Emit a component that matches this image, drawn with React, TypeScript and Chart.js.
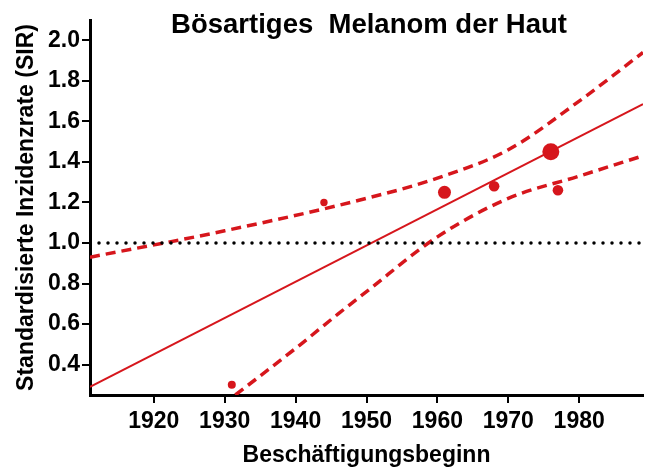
import React, { useEffect, useRef } from "react";
import { Chart, registerables } from "chart.js";

Chart.register(...registerables);

const TITLE = "Bösartiges  Melanom der Haut";
const X_TITLE = "Beschäftigungsbeginn";
const Y_TITLE = "Standardisierte Inzidenzrate (SIR)";

const xTicks = [1920, 1930, 1940, 1950, 1960, 1970, 1980];
const yTicks = [0.4, 0.6, 0.8, 1.0, 1.2, 1.4, 1.6, 1.8, 2.0];

const pointYears = [1931, 1944, 1961, 1968, 1976, 1977];
const pointSIR = [0.3, 1.2, 1.25, 1.28, 1.45, 1.26];
const pointSize = [4, 3.7, 6.5, 5.3, 8.5, 5.3];

const fitYears = [1911, 1989];
const fitSIR = [0.29, 1.685];

const upperYears = [1911, 1930, 1950, 1960, 1970, 1980, 1989];
const upperSIR = [0.93, 1.06, 1.22, 1.32, 1.46, 1.7, 1.94];

const lowerYears = [1931.5, 1940, 1946, 1950, 1960, 1970, 1980, 1989];
const lowerSIR = [0.25, 0.48, 0.65, 0.76, 1.03, 1.22, 1.33, 1.43];

const refYears = [1911, 1989];
const refSIR = [1.0, 1.0];

const RED = "rgb(214,22,28)";
const FONT = "'Liberation Sans', Arial, Helvetica, sans-serif";

const zip = (xs: number[], ys: number[]) => xs.map((x, i) => ({ x, y: ys[i] }));

export default function App() {
  const ref = useRef<HTMLCanvasElement | null>(null);
  useEffect(() => {
    document.body.style.margin = "0";
    const canvas = ref.current!;
    const titlePlugin = {
      id: "topTitle",
      afterDraw(chart: any) {
        const ctx = chart.ctx;
        ctx.save();
        ctx.font = `bold 27.5px ${FONT}`;
        ctx.fillStyle = "#000";
        ctx.textAlign = "center";
        ctx.textBaseline = "alphabetic";
        ctx.fillText(TITLE, 369, 33);
        ctx.restore();
      },
    };
    const chart = new Chart(canvas, {
      type: "scatter",
      data: {
        datasets: [
          {
            type: "line",
            data: zip(refYears, refSIR),
            borderColor: "#000",
            borderWidth: 3.5,
            borderDash: [0, 9],
            borderCapStyle: "round",
            pointRadius: 0,
            fill: false,
          },
          {
            type: "line",
            data: zip(upperYears, upperSIR),
            borderColor: RED,
            borderWidth: 3.5,
            borderDash: [10, 6],
            pointRadius: 0,
            tension: 0.2,
            cubicInterpolationMode: "monotone",
            fill: false,
          },
          {
            type: "line",
            data: zip(lowerYears, lowerSIR),
            borderColor: RED,
            borderWidth: 3.5,
            borderDash: [10, 6],
            pointRadius: 0,
            tension: 0.2,
            cubicInterpolationMode: "monotone",
            fill: false,
          },
          {
            type: "line",
            data: zip(fitYears, fitSIR),
            borderColor: RED,
            borderWidth: 2,
            pointRadius: 0,
            fill: false,
          },
          {
            type: "scatter",
            data: zip(pointYears, pointSIR),
            backgroundColor: RED,
            borderColor: RED,
            borderWidth: 0,
            pointRadius: pointSize,
          },
        ],
      },
      options: {
        animation: false,
        responsive: false,
        maintainAspectRatio: false,
        layout: { autoPadding: false, padding: { top: 20, right: 2, left: 0, bottom: 0 } },
        plugins: {
          legend: { display: false },
          tooltip: { enabled: false },
          title: { display: false },
        },
        scales: {
          x: {
            type: "linear",
            min: 1911,
            max: 1989,
            afterBuildTicks: (s: any) => {
              s.ticks = xTicks.map((v) => ({ value: v }));
            },
            afterFit: (s: any) => {
              s.height = 73;
              s.paddingLeft = 0;
              s.paddingRight = 0;
            },
            ticks: {
              color: "#000",
              font: { family: FONT, size: 23, weight: "bold" },
              padding: 5,
              maxRotation: 0,
              autoSkip: false,
              callback: (v: any) => String(v),
            },
            grid: {
              display: true,
              drawOnChartArea: false,
              drawTicks: true,
              tickLength: 8,
              color: "#000",
              lineWidth: 2,
            },
            border: { display: true, color: "#000", width: 3 },
            title: {
              display: true,
              text: X_TITLE,
              color: "#000",
              font: { family: FONT, size: 23, weight: "bold" },
              padding: { top: 0, bottom: -1 },
            },
          },
          y: {
            type: "linear",
            min: 0.25,
            max: 2.1,
            afterBuildTicks: (s: any) => {
              s.ticks = yTicks.map((v) => ({ value: v }));
            },
            afterFit: (s: any) => {
              s.width = 90;
              s.paddingTop = 0;
              s.paddingBottom = 0;
            },
            ticks: {
              color: "#000",
              font: { family: FONT, size: 23, weight: "bold" },
              padding: 2,
              autoSkip: false,
              callback: (v: any) => Number(v).toFixed(1),
            },
            grid: {
              display: true,
              drawOnChartArea: false,
              drawTicks: true,
              tickLength: 8,
              color: "#000",
              lineWidth: 2,
            },
            border: { display: true, color: "#000", width: 3 },
            title: {
              display: true,
              text: Y_TITLE,
              color: "#000",
              font: { family: FONT, size: 23, weight: "bold" },
              padding: { top: 13, bottom: 0 },
            },
          },
        },
      } as any,
      plugins: [titlePlugin],
    });
    return () => chart.destroy();
  }, []);
  return (
    <div style={{ position: "fixed", left: 0, top: 0, width: 645, height: 468, background: "#fff" }}>
      <canvas ref={ref} width={645} height={468} style={{ width: 645, height: 468 }} />
    </div>
  );
}
